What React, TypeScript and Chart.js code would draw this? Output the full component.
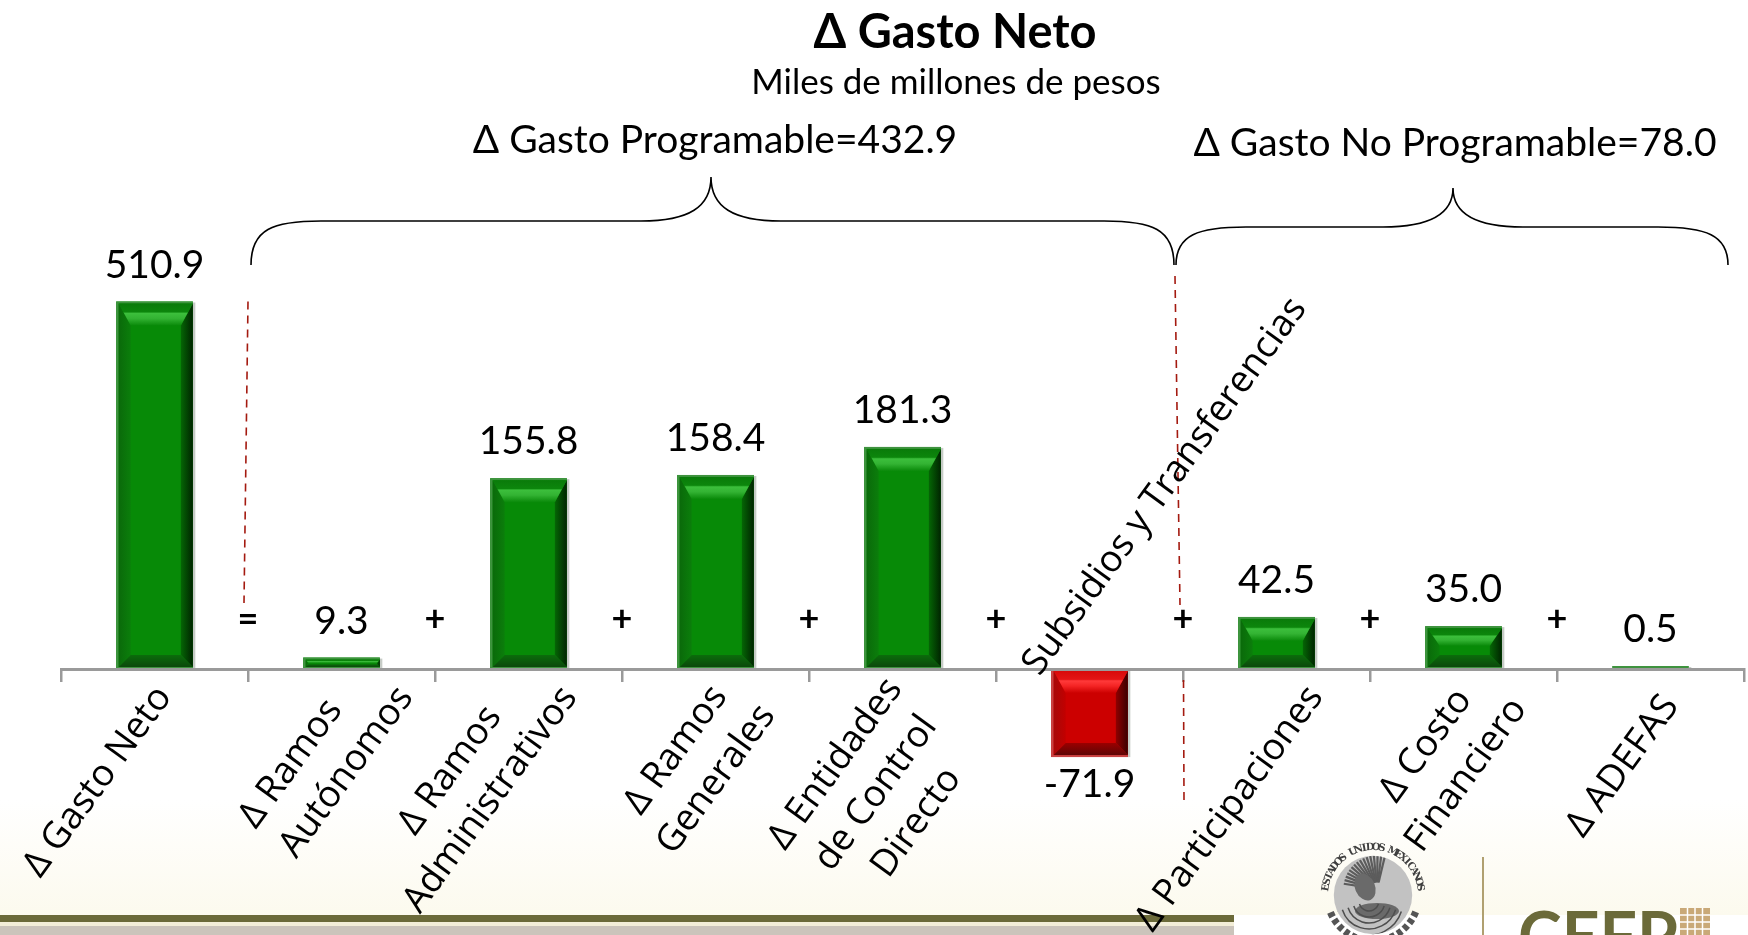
import { useEffect, useRef } from 'react';
import { Chart, registerables } from 'chart.js';

Chart.register(...registerables);

// ---------- data ----------
const categories: string[][] = [
  ['Δ Gasto Neto'],
  ['Δ Ramos', 'Autónomos'],
  ['Δ Ramos', 'Administrativos'],
  ['Δ Ramos', 'Generales'],
  ['Δ Entidades', 'de Control', 'Directo'],
  ['Subsidios y Transferencias'],
  ['Δ Participaciones'],
  ['Δ Costo', 'Financiero'],
  ['Δ ADEFAS'],
];
const values: number[] = [510.9, 9.3, 155.8, 158.4, 181.3, -71.9, 42.5, 35.0, 0.5];
const operators: string[] = ['=', '+', '+', '+', '+', '+', '+', '+'];
const titleText = 'Δ Gasto Neto';
const subtitleText = 'Miles de millones de pesos';
const groupLabels: string[] = ['Δ Gasto Programable=432.9', 'Δ Gasto No Programable=78.0'];
const sealText = 'ESTADOS UNIDOS MEXICANOS';
const logoText = 'CEFP';

// ---------- styles / layout ----------
const ANGLE = 54;
const AXIS_FS = 37;
const AXIS_FONT = `${AXIS_FS}px "Open Sans", "DejaVu Sans", sans-serif`;
const LH = 50;
// offset of each rotated label block (top-right corner) from its category centre on the axis
const labelAnchor: number[][] = [
  [2, 16], [16, -13], [-7, -13], [4, 5], [-15.5, 8], [-50, 8], [31.5, 16], [7.5, -1.5], [13, 25],
];
const labelAlign: string[] = ['center', 'left', 'center', 'center', 'center', 'left', 'center', 'center', 'center'];

type Pal = {
  center: string; frame: string; leftOuter: string; leftInner: string;
  rightInner: string; rightOuter: string; bottomInner: string; bottomOuter: string;
  top: [number, string][];
};
const GREEN: Pal = {
  center: '#078a07', frame: '#3f933f', leftOuter: '#0a6a0a', leftInner: '#0b7e0b',
  rightInner: '#056605', rightOuter: '#002400', bottomInner: '#0b6c0b', bottomOuter: '#0b480b',
  top: [[0, '#0a7a0a'], [0.38, '#0c860c'], [0.45, '#3cbf3c'], [0.68, '#33b333'], [1, '#0a8a0a']],
};
const RED: Pal = {
  center: '#cc0000', frame: '#c84444', leftOuter: '#a80808', leftInner: '#c20000',
  rightInner: '#900000', rightOuter: '#3a0000', bottomInner: '#9a0000', bottomOuter: '#5e0606',
  top: [[0, '#d80a0a'], [0.38, '#e41414'], [0.45, '#ff3a3a'], [0.68, '#f42424'], [1, '#cc0000']],
};

function poly(ctx: CanvasRenderingContext2D, pts: number[][], fill: string | CanvasGradient) {
  ctx.beginPath();
  ctx.moveTo(pts[0][0], pts[0][1]);
  for (let i = 1; i < pts.length; i++) ctx.lineTo(pts[i][0], pts[i][1]);
  ctx.closePath();
  ctx.fillStyle = fill;
  ctx.fill();
}

function drawBevel(ctx: CanvasRenderingContext2D, L: number, T: number, R: number, B: number, p: Pal) {
  ctx.fillStyle = 'rgba(160,168,160,0.6)';
  ctx.fillRect(R, T + 1, 2.5, B - T - 1);
  ctx.fillStyle = p.frame;
  ctx.fillRect(L, T, R - L, B - T);
  const l = L + 2.5, t = T + 2, r = R, b = B - 2;
  if (b - t < 1) return;
  const w = r - l, h = b - t;
  ctx.fillStyle = p.center;
  ctx.fillRect(l, t, w, h);
  const d = Math.max(0, Math.min(12, w / 4, h / 2.6));
  const dt = Math.max(0, Math.min(22, h / 2.2));
  if (d < 0.8) return;
  let g = ctx.createLinearGradient(l, 0, l + d, 0);
  g.addColorStop(0, p.leftOuter); g.addColorStop(1, p.leftInner);
  poly(ctx, [[l, t], [l + d, t + dt], [l + d, b - d], [l, b]], g);
  g = ctx.createLinearGradient(r - d, 0, r, 0);
  g.addColorStop(0, p.rightInner); g.addColorStop(1, p.rightOuter);
  poly(ctx, [[r, t], [r, b], [r - d, b - d], [r - d, t + dt]], g);
  g = ctx.createLinearGradient(0, b - d, 0, b);
  g.addColorStop(0, p.bottomInner); g.addColorStop(1, p.bottomOuter);
  poly(ctx, [[l, b], [r, b], [r - d, b - d], [l + d, b - d]], g);
  g = ctx.createLinearGradient(0, t, 0, t + dt);
  p.top.forEach(([o, c]) => g.addColorStop(o, c));
  poly(ctx, [[l, t], [r, t], [r - d, t + dt], [l + d, t + dt]], g);
}

function drawBrace(ctx: CanvasRenderingContext2D, x1: number, x2: number, xp: number, yEnd: number, yMid: number, yPeak: number) {
  const r = 70;
  ctx.beginPath();
  ctx.moveTo(x1, yEnd);
  ctx.bezierCurveTo(x1, yMid + 8, x1 + 22, yMid, x1 + r, yMid);
  ctx.lineTo(xp - r, yMid);
  ctx.bezierCurveTo(xp - 22, yMid, xp, yMid - 14, xp, yPeak);
  ctx.bezierCurveTo(xp, yMid - 14, xp + 22, yMid, xp + r, yMid);
  ctx.lineTo(x2 - r, yMid);
  ctx.bezierCurveTo(x2 - 22, yMid, x2, yMid + 8, x2, yEnd);
  ctx.strokeStyle = '#000';
  ctx.lineWidth = 1.6;
  ctx.stroke();
}

function dashed(ctx: CanvasRenderingContext2D, x1: number, y1: number, x2: number, y2: number) {
  ctx.save();
  ctx.strokeStyle = '#a41a10';
  ctx.lineWidth = 1.6;
  ctx.setLineDash([8, 6]);
  ctx.beginPath();
  ctx.moveTo(x1, y1);
  ctx.lineTo(x2, y2);
  ctx.stroke();
  ctx.restore();
}

function drawSeal(ctx: CanvasRenderingContext2D, cx: number, cy: number, r: number) {
  ctx.save();
  ctx.save();
  ctx.beginPath(); ctx.arc(cx, cy, r * 0.7, 0, Math.PI * 2);
  ctx.fillStyle = '#c2c2c2'; ctx.fill();
  ctx.clip();
  ctx.strokeStyle = '#5c5c5c';
  ctx.lineWidth = 2.2;
  for (let k = 0; k < 16; k++) {
    const a = -Math.PI * 0.95 + k * 0.11;
    ctx.beginPath();
    ctx.moveTo(cx + 4 + Math.cos(a) * r * 0.12, cy - 6 + Math.sin(a) * r * 0.12);
    ctx.lineTo(cx + 4 + Math.cos(a) * r * 0.6, cy - 6 + Math.sin(a) * r * 0.6);
    ctx.stroke();
  }
  ctx.fillStyle = '#6a6a6a';
  ctx.beginPath(); ctx.ellipse(cx - 8, cy - 8, 10, 14, -0.4, 0, Math.PI * 2); ctx.fill();
  ctx.beginPath(); ctx.ellipse(cx + 4, cy + 16, 22, 8, 0, 0, Math.PI * 2); ctx.fill();
  ctx.strokeStyle = '#4e4e4e'; ctx.lineWidth = 1.5;
  for (let k = 0; k < 5; k++) {
    ctx.beginPath(); ctx.arc(cx - 4, cy + 6, 10 + k * 6, Math.PI * 0.1, Math.PI * 0.9); ctx.stroke();
  }
  ctx.restore();
  ctx.strokeStyle = '#555';
  ctx.lineWidth = 7;
  ctx.setLineDash([5, 3]);
  ctx.beginPath(); ctx.arc(cx, cy, r * 0.82, Math.PI * 0.12, Math.PI * 0.88); ctx.stroke();
  ctx.setLineDash([]);
  ctx.fillStyle = '#3e3e3e';
  ctx.font = 'bold 10px "DejaVu Serif", serif';
  ctx.textAlign = 'center'; ctx.textBaseline = 'middle';
  const chars = sealText.split('');
  const a0 = Math.PI * 1.05, a1 = Math.PI * 1.95;
  chars.forEach((ch, i) => {
    const a = a0 + (a1 - a0) * (i / (chars.length - 1));
    ctx.save();
    ctx.translate(cx + Math.cos(a) * r * 0.85, cy + Math.sin(a) * r * 0.85);
    ctx.rotate(a + Math.PI / 2);
    ctx.fillText(ch, 0, 0);
    ctx.restore();
  });
  ctx.restore();
}

export default function App() {
  const ref = useRef<HTMLCanvasElement>(null);
  useEffect(() => {
    const canvas = ref.current;
    if (!canvas) return;

    const decor = {
      id: 'decor',
      beforeDraw(chart: any) {
        const ctx: CanvasRenderingContext2D = chart.ctx;
        const W = chart.width, H = chart.height;
        ctx.save();
        ctx.fillStyle = '#ffffff';
        ctx.fillRect(0, 0, W, H);
        const g = ctx.createLinearGradient(0, 800, 0, 915);
        g.addColorStop(0, '#ffffff'); g.addColorStop(1, '#fcfaee');
        ctx.fillStyle = g;
        ctx.fillRect(0, 800, W, 115);
        ctx.fillStyle = '#6b6a39'; ctx.fillRect(0, 915, 1234, 7);
        ctx.fillStyle = '#f3eed8'; ctx.fillRect(0, 922, 1234, 4);
        ctx.fillStyle = '#cbc4bb'; ctx.fillRect(0, 926, 1234, 9);
        ctx.restore();
      },
      afterDatasetsDraw(chart: any) {
        const ctx: CanvasRenderingContext2D = chart.ctx;
        const meta = chart.getDatasetMeta(0);
        const top = chart.chartArea.top;
        ctx.save();
        meta.data.forEach((el: any, i: number) => {
          const hw = el.width / 2;
          let T = Math.max(Math.min(el.y, el.base), top);
          let B = Math.max(el.y, el.base);
          if (B - T < 3) { if (values[i] >= 0) T = B - 3; else B = T + 3; }
          drawBevel(ctx, el.x - hw, T, el.x + hw, B, values[i] < 0 ? RED : GREEN);
        });
        ctx.restore();
      },
      afterDraw(chart: any) {
        const ctx: CanvasRenderingContext2D = chart.ctx;
        const meta = chart.getDatasetMeta(0);
        const yS = chart.scales.y;
        const area = chart.chartArea;
        const axisY = yS.getPixelForValue(0);
        const els = meta.data;
        const bx = (i: number) => (els[i].x + els[i + 1].x) / 2;
        ctx.save();

        // titles
        ctx.fillStyle = '#000';
        ctx.textAlign = 'center';
        ctx.textBaseline = 'alphabetic';
        ctx.font = 'bold 47px Lato, "Open Sans", sans-serif';
        ctx.fillText(titleText, 955, 48);
        ctx.font = '35px Lato, "Open Sans", sans-serif';
        ctx.fillText(subtitleText, 956, 94);
        ctx.font = '39px Lato, "Open Sans", sans-serif';
        ctx.fillText(groupLabels[0], 715, 153);
        ctx.fillText(groupLabels[1], 1455, 156);

        // braces
        drawBrace(ctx, 251, 1174, 711, 265, 221, 177);
        drawBrace(ctx, 1176, 1728, 1453, 265, 227, 188);

        // dashed separators
        dashed(ctx, bx(0), area.top, bx(0) - 4, axisY - 66);
        dashed(ctx, bx(5) - 8, 276, bx(5) - 3, axisY - 64);
        dashed(ctx, bx(5) + 0.5, axisY + 11, bx(5) + 1, 800);

        // value labels
        ctx.font = '39px Lato, "Open Sans", sans-serif';
        ctx.textAlign = 'center';
        els.forEach((el: any, i: number) => {
          const v = values[i];
          const txt = v.toFixed(1);
          if (v >= 0) {
            const T = Math.max(el.y, area.top);
            ctx.textBaseline = 'alphabetic';
            ctx.fillText(txt, el.x, Math.min(T, el.base - 3) - 24);
          } else {
            ctx.textBaseline = 'top';
            ctx.fillText(txt, el.x, el.y + 8);
          }
        });

        // operators
        ctx.font = 'bold 36px Lato, "DejaVu Sans", sans-serif';
        ctx.textBaseline = 'middle';
        operators.forEach((op, i) => {
          ctx.fillText(op, bx(i), axisY - 50);
        });

        // category labels (rotated)
        const th = (ANGLE * Math.PI) / 180;
        ctx.font = AXIS_FONT;
        ctx.textBaseline = 'alphabetic';
        const xh = AXIS_FS * 0.54;
        categories.forEach((lines, i) => {
          const cx = els[i].x;
          const [ax, ay] = labelAnchor[i];
          ctx.save();
          ctx.translate(cx + ax, axisY + ay);
          ctx.rotate(-th);
          if (values[i] < 0) {
            ctx.textAlign = 'left';
            ctx.fillText(lines.join(' '), 0, 0);
          } else {
            const Wd = Math.max(...lines.map((l) => ctx.measureText(l).width));
            if (labelAlign[i] === 'left') {
              ctx.textAlign = 'left';
              lines.forEach((l, k) => ctx.fillText(l, -Wd, xh + k * LH));
            } else {
              ctx.textAlign = 'center';
              lines.forEach((l, k) => ctx.fillText(l, -Wd / 2, xh + k * LH));
            }
          }
          ctx.restore();
        });

        // logos
        drawSeal(ctx, 1373, 895, 56);
        ctx.strokeStyle = '#b0a070';
        ctx.lineWidth = 2;
        ctx.beginPath(); ctx.moveTo(1483, 857); ctx.lineTo(1483, 935); ctx.stroke();
        ctx.fillStyle = '#6b6a39';
        ctx.font = 'bold 66px Lato, sans-serif';
        ctx.textAlign = 'left';
        ctx.textBaseline = 'alphabetic';
        ctx.fillText(logoText, 1518, 960);
        ctx.fillStyle = '#c9a978';
        ctx.fillRect(1680, 908, 30, 27);
        ctx.strokeStyle = '#ffffff';
        ctx.lineWidth = 1.5;
        for (let k = 1; k < 4; k++) {
          ctx.beginPath(); ctx.moveTo(1680 + k * 7.5, 908); ctx.lineTo(1680 + k * 7.5, 935); ctx.stroke();
          ctx.beginPath(); ctx.moveTo(1680, 908 + k * 7); ctx.lineTo(1710, 908 + k * 7); ctx.stroke();
        }
        ctx.restore();
      },
    };

    const chart = new Chart(canvas, {
      type: 'bar',
      data: {
        labels: categories,
        datasets: [
          {
            data: values,
            backgroundColor: values.map((v) => (v < 0 ? RED.center : GREEN.center)),
            borderWidth: 0,
            barPercentage: 0.41,
            categoryPercentage: 1,
            clip: 0,
          } as any,
        ],
      },
      options: {
        responsive: false,
        animation: false,
        devicePixelRatio: 1,
        events: [],
        layout: { padding: { left: 61, right: 4, top: 301.5, bottom: 168 } },
        plugins: {
          legend: { display: false },
          tooltip: { enabled: false },
          title: { display: false },
        },
        scales: {
          x: {
            position: { y: 0 } as any,
            offset: true,
            grid: { offset: true, drawOnChartArea: false, color: '#9a9a9a', lineWidth: 2.5, tickLength: 11 },
            border: { color: '#9a9a9a', width: 3, z: 1 },
            ticks: { display: false },
          },
          y: { display: false, min: -80, max: 300 },
        },
      },
      plugins: [decor],
    });
    return () => chart.destroy();
  }, []);

  return (
    <div style={{ position: 'fixed', left: 0, top: 0, width: 1748, height: 935, background: '#fff' }}>
      <canvas ref={ref} width={1748} height={935} style={{ display: 'block', width: 1748, height: 935 }} />
    </div>
  );
}
